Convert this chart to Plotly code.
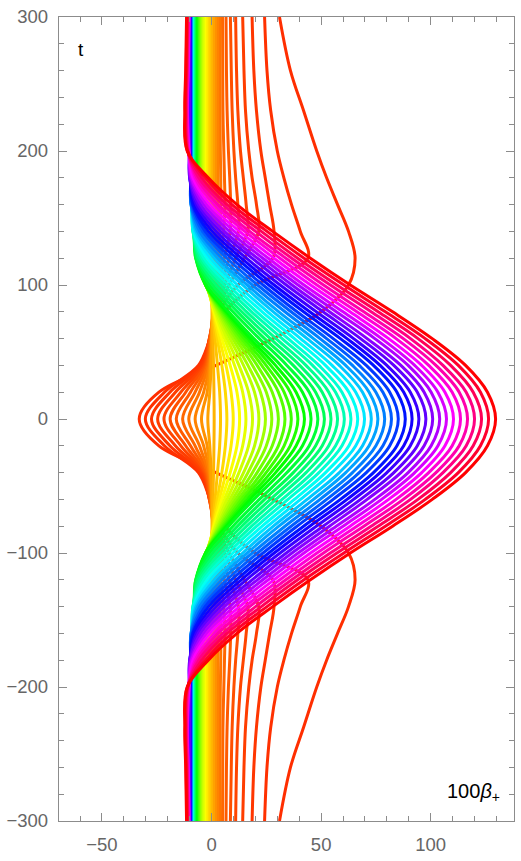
import colorsys
import plotly.graph_objects as go

# time levels (upper half; the chart is mirror-symmetric in t)
t_levels = [0, 20, 40, 60, 80, 100, 120, 140, 160, 180, 200, 230, 260, 300]

# 100*beta_+ of each of the 55 curves, read at each time level
x_t000 = [-33, -30.2, -27.4, -24.6, -21.7, -18.9, -16.1, -13.2, -10.4, -7.5, -4.6, -1.7, 1.2, 4.1, 7.0, 9.9, 12.8, 15.7, 18.7, 21.6, 24.6, 27.5, 30.5, 33.5, 36.4, 39.4, 42.4, 45.4, 48.5, 51.5, 54.5, 57.5, 60.6, 63.6, 66.7, 69.8, 72.9, 75.9, 79.0, 82.1, 85.2, 88.4, 91.5, 94.6, 97.8, 100.9, 104.1, 107.2, 110.4, 113.6, 116.8, 120.0, 123.2, 126.4, 129.6]
x_t020 = [-24, -21.5, -19, -16.5, -14, -11.8, -9.6, -7.5, -5.5, -3.6, -2.0, -0.8, 1.1, 3.7, 6.3, 8.9, 11.6, 14.2, 16.9, 19.6, 22.3, 25.0, 27.7, 30.5, 33.1, 35.9, 38.6, 41.5, 44.6, 47.5, 50.5, 53.5, 56.6, 59.5, 62.7, 65.8, 68.9, 71.9, 75.0, 78.2, 81.3, 84.6, 87.7, 90.7, 93.9, 97.0, 100.2, 103.3, 106.5, 109.8, 113.0, 116.2, 119.4, 122.7, 125.9]
x_t040 = [2, -6, -5, -4.2, -3.5, -3, -2.5, -2, -1.5, -1.0, -0.6, -0.2, 0.9, 2.7, 4.7, 6.6, 8.5, 10.5, 12.5, 14.6, 16.6, 18.7, 20.8, 22.9, 24.9, 27.0, 29.2, 31.6, 34.4, 37.3, 40.2, 43.1, 46.1, 49.0, 52.0, 55.0, 58.3, 61.2, 64.3, 67.4, 70.6, 73.9, 76.9, 80.0, 83.2, 86.4, 89.7, 92.7, 95.9, 99.1, 102.4, 105.6, 109.1, 112.6, 115.9]
x_t060 = [28, -0.5, -0.8, -1, -1, -0.9, -0.7, -0.5, -0.3, -0.1, 0, 0.1, 0.6, 1.6, 2.6, 3.6, 4.7, 5.9, 7.1, 8.4, 9.7, 11.0, 12.3, 13.6, 14.9, 16.3, 17.6, 19.3, 21.8, 24.2, 26.8, 29.4, 32.2, 34.9, 37.8, 40.6, 43.6, 46.5, 49.5, 52.5, 55.5, 58.8, 61.8, 64.8, 68.0, 71.0, 74.5, 77.6, 80.8, 84.2, 87.5, 90.8, 94.2, 97.5, 100.7]
x_t080 = [50, 6, 3.5, 2.5, 1.8, 1.3, 1, 0.8, 0.7, 0.6, 0.5, 0.3, 0.3, 0.5, 0.7, 0.9, 1.2, 1.6, 2.0, 2.7, 3.2, 3.8, 4.3, 5.0, 5.6, 6.2, 6.8, 7.8, 9.8, 11.8, 13.8, 16.0, 18.3, 20.6, 23.1, 25.6, 28.2, 30.7, 33.5, 36.3, 39.0, 42.0, 44.8, 47.8, 50.9, 53.8, 56.9, 60.0, 63.2, 66.3, 69.5, 72.8, 76.0, 79.3, 82.6]
x_t100 = [62.5, 20, 12, 8, 6, 4.5, 3.3, 2.5, 1.9, 1.4, 0.9, 0.5, 0.1, -0.4, -0.9, -1.4, -1.8, -2.1, -2.3, -2.4, -2.5, -2.6, -2.7, -2.7, -2.7, -2.7, -2.7, -2.2, -0.9, 0.5, 2.1, 3.9, 5.7, 7.6, 9.7, 11.8, 14.2, 16.3, 18.6, 21.0, 23.5, 26.1, 28.6, 31.3, 34.1, 36.7, 39.5, 42.2, 45.2, 48.1, 51.1, 54.2, 57.2, 60.4, 63.3]
x_t120 = [65.5, 44, 28, 15, 11, 8, 5.8, 4.2, 3.0, 2.1, 1.3, 0.7, 0, -0.8, -1.6, -2.4, -3.1, -3.7, -4.3, -4.7, -5.1, -5.5, -5.9, -6.1, -6.4, -6.7, -7.0, -7.2, -7.2, -6.7, -6.2, -5.4, -4.4, -3.4, -2.0, -0.5, 1.3, 2.9, 4.8, 7.0, 9.1, 11.4, 13.6, 15.9, 18.5, 20.9, 23.4, 25.9, 28.5, 31.2, 33.9, 36.6, 39.3, 42.2, 45.1]
x_t140 = [62.5, 40.5, 28.5, 21.5, 16.5, 12.3, 8.5, 5.5, 3.8, 2.6, 1.6, 0.8, 0, -0.8, -1.6, -2.4, -3.1, -3.7, -4.3, -4.8, -5.2, -5.6, -6.0, -6.3, -6.6, -6.9, -7.2, -7.5, -7.8, -8.0, -8.2, -8.4, -8.5, -8.4, -8.2, -7.8, -7.1, -6.4, -5.4, -4.1, -2.9, -1.4, 0.3, 2.1, 4.0, 5.9, 8.2, 10.4, 12.8, 15.2, 17.4, 20.1, 22.7, 25.3, 27.9]
x_t160 = [57.5, 36.5, 26.5, 20.5, 15.8, 12, 8.7, 6.1, 4.2, 2.8, 1.8, 0.9, 0, -0.8, -1.6, -2.4, -3.1, -3.7, -4.3, -4.8, -5.2, -5.6, -6.0, -6.3, -6.6, -6.9, -7.2, -7.5, -7.8, -8.0, -8.2, -8.4, -8.6, -8.8, -9.0, -9.1, -9.2, -9.3, -9.4, -9.2, -8.8, -8.5, -7.8, -7.0, -6.1, -5.0, -3.6, -2.2, -0.7, 1.2, 3.0, 5.2, 7.1, 9.3, 11.6]
x_t180 = [52.5, 33, 24.5, 18.5, 14.5, 11, 8.3, 5.9, 4.2, 2.9, 1.8, 0.9, 0, -0.8, -1.6, -2.4, -3.1, -3.7, -4.3, -4.8, -5.2, -5.6, -6.0, -6.3, -6.6, -6.9, -7.2, -7.5, -7.8, -8.0, -8.2, -8.4, -8.6, -8.8, -9.0, -9.1, -9.2, -9.3, -9.4, -9.5, -9.6, -9.7, -9.8, -9.9, -10.0, -9.8, -9.4, -9.1, -8.5, -7.5, -6.7, -5.8, -4.4, -2.8, -1.5]
x_t200 = [48, 30, 22.5, 17, 13.2, 10.2, 7.7, 5.6, 4.0, 2.9, 1.8, 0.9, 0, -0.8, -1.6, -2.4, -3.1, -3.7, -4.3, -4.8, -5.2, -5.6, -6.0, -6.3, -6.6, -6.9, -7.2, -7.5, -7.8, -8.0, -8.2, -8.4, -8.6, -8.8, -9.0, -9.1, -9.2, -9.3, -9.4, -9.5, -9.6, -9.7, -9.8, -9.9, -10.0, -10.1, -10.2, -10.3, -10.4, -10.5, -10.6, -10.8, -10.9, -11.0, -11.1]
x_t230 = [42, 27, 20.5, 15.5, 12, 9.4, 7.1, 5.2, 3.9, 2.8, 1.8, 0.9, 0, -0.8, -1.6, -2.4, -3.1, -3.7, -4.3, -4.8, -5.2, -5.6, -6.0, -6.3, -6.6, -6.9, -7.2, -7.5, -7.8, -8.0, -8.2, -8.4, -8.6, -8.8, -9.0, -9.1, -9.2, -9.3, -9.4, -9.5, -9.6, -9.7, -9.8, -9.9, -10.0, -10.9, -11.0, -11.1, -11.2, -11.3, -11.4, -11.6, -11.8, -12.0, -12.2]
x_t260 = [36, 25.3, 19.3, 14.8, 11.4, 9.0, 6.8, 5.1, 3.8, 2.8, 1.8, 0.9, 0, -0.8, -1.6, -2.4, -3.1, -3.7, -4.3, -4.8, -5.2, -5.6, -6.0, -6.3, -6.6, -6.9, -7.2, -7.5, -7.8, -8.0, -8.2, -8.4, -8.6, -8.8, -9.0, -9.1, -9.2, -9.3, -9.4, -9.5, -9.6, -9.7, -9.8, -9.9, -10.0, -10.5, -10.6, -10.7, -10.8, -10.9, -11.0, -11.2, -11.4, -11.6, -11.8]
x_t300 = [31, 24.2, 18.5, 14.2, 11, 8.6, 6.6, 5.0, 3.8, 2.8, 1.8, 0.9, 0, -0.8, -1.6, -2.4, -3.1, -3.7, -4.3, -4.8, -5.2, -5.6, -6.0, -6.3, -6.6, -6.9, -7.2, -7.5, -7.8, -8.0, -8.2, -8.4, -8.6, -8.8, -9.0, -9.1, -9.2, -9.3, -9.4, -9.5, -9.6, -9.7, -9.8, -9.9, -10.0, -10.1, -10.2, -10.3, -10.4, -10.5, -10.6, -10.8, -11.0, -11.2, -11.4]

# hue of each curve (Mathematica Hue[h])
hue = [0.030, 0.032, 0.035, 0.040, 0.045, 0.052, 0.059, 0.067, 0.076, 0.085,
       0.095, 0.106, 0.117, 0.129, 0.142, 0.155, 0.169, 0.183, 0.197, 0.212,
       0.228, 0.244, 0.261, 0.278, 0.295, 0.313, 0.331, 0.350, 0.369, 0.389,
       0.409, 0.429, 0.450, 0.471, 0.493, 0.515, 0.537, 0.560, 0.583, 0.606,
       0.630, 0.654, 0.679, 0.704, 0.729, 0.755, 0.781, 0.807, 0.833, 0.860,
       0.887, 0.915, 0.943, 0.971, 1.000]

x_tick_vals = [-50, 0, 50, 100]
y_tick_vals = [-300, -200, -100, 0, 100, 200, 300]

rows = [x_t000, x_t020, x_t040, x_t060, x_t080, x_t100, x_t120, x_t140,
        x_t160, x_t180, x_t200, x_t230, x_t260, x_t300]
n = len(x_t000)
assert all(len(r) == n for r in rows) and len(hue) == n, [len(r) for r in rows]

t_full = [-t for t in reversed(t_levels[1:])] + list(t_levels)

fig = go.Figure()
for i in range(n):
    upper = [r[i] for r in rows]
    xs = list(reversed(upper[1:])) + upper
    r, g, b = colorsys.hsv_to_rgb(hue[i] % 1.0, 1.0, 1.0)
    col = f"rgb({int(round(r*255))},{int(round(g*255))},{int(round(b*255))})"
    fig.add_trace(go.Scatter(
        x=xs, y=t_full, mode="lines",
        line=dict(color=col, width=3, shape="spline", smoothing=1.0),
        hoverinfo="skip", showlegend=False))

axis_col = "#8c8c8c"
font_family = "Liberation Sans, Arial, sans-serif"
tick_font = dict(family=font_family, size=18.5, color="#666666")

fig.update_xaxes(
    range=[-69.6, 138.0], tickvals=x_tick_vals, ticks="inside", ticklen=8,
    tickwidth=1, tickcolor=axis_col,
    minor=dict(dtick=10, tick0=0, ticks="inside", ticklen=5, tickcolor=axis_col, tickwidth=1),
    showline=True, linecolor=axis_col, linewidth=1.3, mirror="ticks",
    showgrid=False, zeroline=False, tickfont=tick_font, ticklabelstandoff=7)
fig.update_yaxes(
    range=[-300, 300], tickvals=y_tick_vals, ticks="inside", ticklen=8,
    tickwidth=1, tickcolor=axis_col,
    minor=dict(dtick=20, tick0=0, ticks="inside", ticklen=5, tickcolor=axis_col, tickwidth=1),
    showline=True, linecolor=axis_col, linewidth=1.3, mirror="ticks",
    showgrid=False, zeroline=False, tickfont=tick_font, ticklabelstandoff=6)

fig.update_layout(
    width=521, height=861,
    margin=dict(l=54, r=6, t=14, b=37),
    plot_bgcolor="white", paper_bgcolor="white", showlegend=False,
    annotations=[
        dict(x=-59.5, y=276, xref="x", yref="y", text="t", showarrow=False,
             font=dict(family=font_family, size=19, color="black")),
        dict(x=119.5, y=-279, xref="x", yref="y", text="100<i>β</i><sub>+</sub>",
             showarrow=False,
             font=dict(family=font_family, size=20, color="black")),
    ])

fig.write_html("out.html")
